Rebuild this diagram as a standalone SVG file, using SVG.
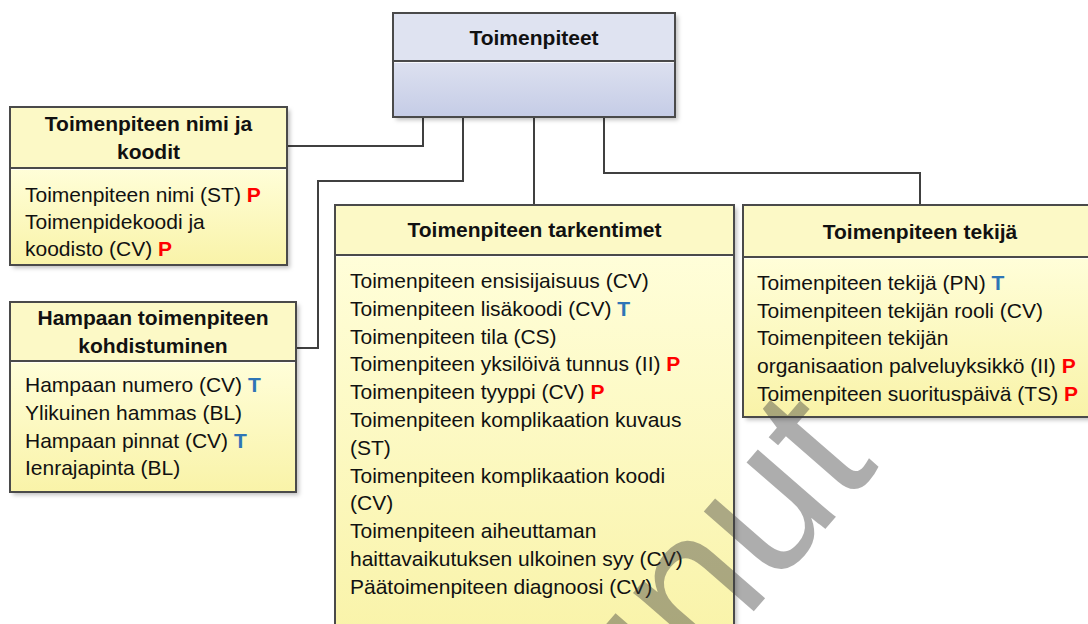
<svg xmlns="http://www.w3.org/2000/svg" width="1088" height="624" viewBox="0 0 1088 624">
  <defs>
    <linearGradient id="gYellow" x1="0" y1="0" x2="0" y2="1">
      <stop offset="0" stop-color="#fffed9"/>
      <stop offset="1" stop-color="#f9f3a8"/>
    </linearGradient>
    <linearGradient id="gBlue" x1="0" y1="0" x2="0" y2="1">
      <stop offset="0" stop-color="#dde1f0"/>
      <stop offset="1" stop-color="#c5cce6"/>
    </linearGradient>
    <filter id="shadow" x="-5%" y="-5%" width="115%" height="115%">
      <feDropShadow dx="3" dy="3" stdDeviation="2" flood-color="#000" flood-opacity="0.25"/>
    </filter>
    <style>
      .frame { fill: none; stroke: #4a4a4a; stroke-width: 2; }
      .hdrY { fill: #fcf9c6; }
      .hdrB { fill: #dfe3f1; }
      .div { stroke: #4a4a4a; stroke-width: 2; }
      .hl { stroke: #ffffff; stroke-width: 1; opacity: 0.8; }
      .title { font-family: "Liberation Sans", Arial, sans-serif; font-weight: bold; font-size: 21px; fill: #111; text-anchor: middle; }
      .body { font-family: "Liberation Sans", Arial, sans-serif; font-size: 21px; fill: #111; }
      .p { fill: #ff0000; font-weight: bold; }
      .t { fill: #2e75b6; font-weight: bold; }
      .conn { fill: none; stroke: #404040; stroke-width: 2; }
      .wm { font-family: "Liberation Sans", Arial, sans-serif; font-size: 195px; fill: #3c3c3c; fill-opacity: 0.42; text-anchor: end; }
    </style>
  </defs>
  <rect width="1088" height="624" fill="#ffffff"/>

  <g id="connectors">
    <path class="conn" d="M288 146 H423 V117"/>
    <path class="conn" d="M297 348 H318 V181 H463 V117"/>
    <path class="conn" d="M534 117 V205"/>
    <path class="conn" d="M604 117 V173 H920 V205"/>
  </g>

  <g id="toimenpiteet">
    <rect x="393" y="13" width="282" height="104" class="hdrB" filter="url(#shadow)"/>
    <rect x="393" y="61" width="282" height="56" fill="url(#gBlue)"/>
    <line x1="393" y1="61" x2="675" y2="61" class="div"/>
    <line x1="394" y1="62.5" x2="674" y2="62.5" class="hl"/>
    <rect x="393" y="13" width="282" height="104" class="frame"/>
    <text x="534" y="45" class="title">Toimenpiteet</text>
  </g>

  <g id="nimi-ja-koodit">
    <rect x="10" y="107" width="277" height="158" class="hdrY" filter="url(#shadow)"/>
    <rect x="10" y="168" width="277" height="97" fill="url(#gYellow)"/>
    <line x1="10" y1="168" x2="287" y2="168" class="div"/>
    <line x1="11" y1="169.5" x2="286" y2="169.5" class="hl"/>
    <rect x="10" y="107" width="277" height="158" class="frame"/>
    <text x="148.5" y="131" class="title">Toimenpiteen nimi ja</text>
    <text x="148.5" y="159" class="title">koodit</text>
    <text x="25" y="202" class="body">Toimenpiteen nimi (ST) <tspan class="p">P</tspan></text>
    <text x="25" y="229" class="body">Toimenpidekoodi ja</text>
    <text x="25" y="256" class="body">koodisto (CV) <tspan class="p">P</tspan></text>
  </g>

  <g id="hampaan-kohdistuminen">
    <rect x="10" y="302" width="286" height="190" class="hdrY" filter="url(#shadow)"/>
    <rect x="10" y="361" width="286" height="131" fill="url(#gYellow)"/>
    <line x1="10" y1="361" x2="296" y2="361" class="div"/>
    <line x1="11" y1="362.5" x2="295" y2="362.5" class="hl"/>
    <rect x="10" y="302" width="286" height="190" class="frame"/>
    <text x="153" y="325" class="title">Hampaan toimenpiteen</text>
    <text x="153" y="353" class="title">kohdistuminen</text>
    <text x="25" y="392" class="body">Hampaan numero (CV) <tspan class="t">T</tspan></text>
    <text x="25" y="420" class="body">Ylikuinen hammas (BL)</text>
    <text x="25" y="447.5" class="body">Hampaan pinnat (CV) <tspan class="t">T</tspan></text>
    <text x="25" y="475" class="body">Ienrajapinta (BL)</text>
  </g>

  <g id="tarkentimet">
    <rect x="335" y="205" width="399" height="440" class="hdrY" filter="url(#shadow)"/>
    <rect x="335" y="255" width="399" height="390" fill="url(#gYellow)"/>
    <line x1="335" y1="255" x2="734" y2="255" class="div"/>
    <line x1="336" y1="256.5" x2="733" y2="256.5" class="hl"/>
    <rect x="335" y="205" width="399" height="440" class="frame"/>
    <text x="534.5" y="237" class="title">Toimenpiteen tarkentimet</text>
    <text x="350" y="288" class="body">Toimenpiteen ensisijaisuus (CV)</text>
    <text x="350" y="315.8" class="body">Toimenpiteen lisäkoodi (CV) <tspan class="t">T</tspan></text>
    <text x="350" y="343.6" class="body">Toimenpiteen tila (CS)</text>
    <text x="350" y="371.4" class="body">Toimenpiteen yksilöivä tunnus (II) <tspan class="p">P</tspan></text>
    <text x="350" y="399.2" class="body">Toimenpiteen tyyppi (CV) <tspan class="p">P</tspan></text>
    <text x="350" y="427" class="body">Toimenpiteen komplikaation kuvaus</text>
    <text x="350" y="454.8" class="body">(ST)</text>
    <text x="350" y="482.6" class="body">Toimenpiteen komplikaation koodi</text>
    <text x="350" y="510.4" class="body">(CV)</text>
    <text x="350" y="538.2" class="body">Toimenpiteen aiheuttaman</text>
    <text x="350" y="566" class="body">haittavaikutuksen ulkoinen syy (CV)</text>
    <text x="350" y="593.8" class="body">Päätoimenpiteen diagnoosi (CV)</text>
  </g>

  <g id="tekija">
    <rect x="743" y="205" width="354" height="212" class="hdrY" filter="url(#shadow)"/>
    <rect x="743" y="257" width="354" height="160" fill="url(#gYellow)"/>
    <line x1="743" y1="257" x2="1097" y2="257" class="div"/>
    <line x1="744" y1="258.5" x2="1096" y2="258.5" class="hl"/>
    <rect x="743" y="205" width="354" height="212" class="frame"/>
    <text x="920" y="238.5" class="title">Toimenpiteen tekijä</text>
    <text x="757" y="290" class="body">Toimenpiteen tekijä (PN) <tspan class="t">T</tspan></text>
    <text x="757" y="317.7" class="body">Toimenpiteen tekijän rooli (CV)</text>
    <text x="757" y="345.4" class="body">Toimenpiteen tekijän</text>
    <text x="757" y="373.1" class="body">organisaation palveluyksikkö (II) <tspan class="p">P</tspan></text>
    <text x="757" y="400.8" class="body">Toimenpiteen suorituspäivä (TS) <tspan class="p">P</tspan></text>
  </g>

  <g id="watermark">
    <text class="wm" transform="translate(880 466) rotate(-49)">Vanhentunut</text>
  </g>
</svg>
